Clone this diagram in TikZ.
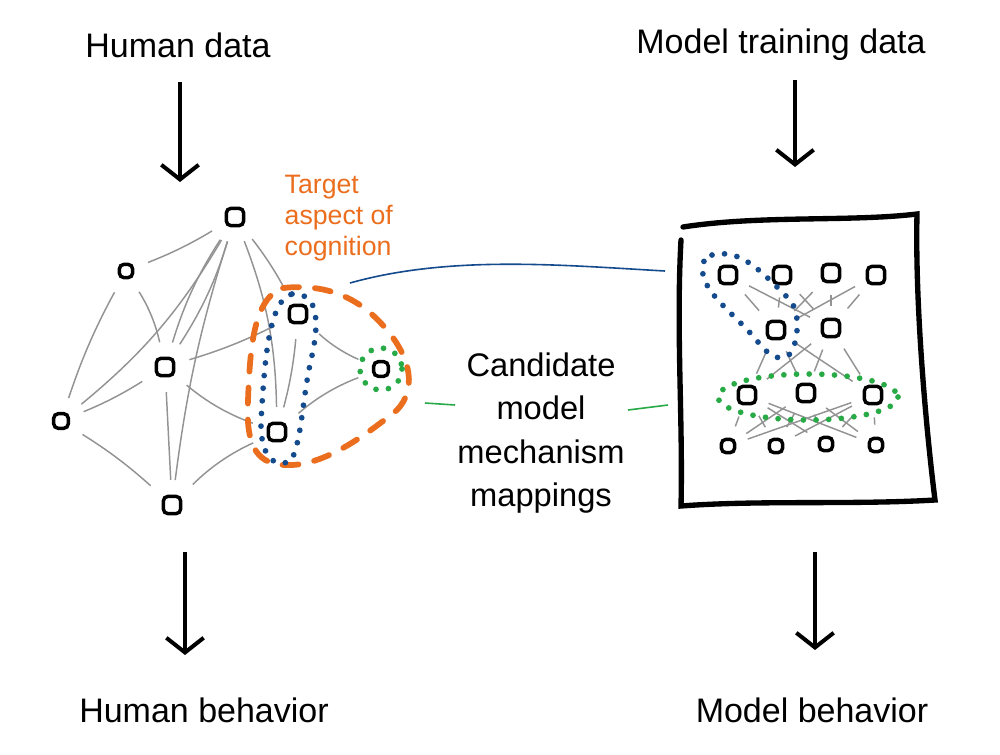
\documentclass[tikz,border=0pt]{standalone}
\usepackage{fontspec}
\setmainfont{Liberation Sans}
\usetikzlibrary{arrows.meta}
\definecolor{org}{RGB}{235,110,30}
\definecolor{blu}{RGB}{20,75,140}
\definecolor{grn}{RGB}{40,170,70}
\begin{document}
\begin{tikzpicture}[x=0.75pt,y=-0.75pt,
  nd/.style={draw=black,line width=2.6pt,rounded corners=3.5pt,minimum size=13pt,inner sep=0pt},
  sn/.style={nd,minimum size=10pt},
  ed/.style={draw=gray!85,line width=1.1pt},
  big/.style={font=\fontsize{25.5}{30}\selectfont},
  arr/.style={line width=3pt,-{Straight Barb[length=11pt,width=28pt,line width=3pt]}},
  dots/.style={line width=4.3pt,line cap=round,dash pattern=on 0pt off 9.5pt},
  odash/.style={line width=4.3pt,line cap=round,dash pattern=on 12pt off 12pt}]
\useasboundingbox (0,0) rectangle (1000,754);
% texts
\node[big] (hd) at (178,45) {Human data};
\node[big] (mt) at (781,45) {Model training data};
\node[big] (hb) at (204,710) {Human behavior};
\node[big] (mb) at (812,710) {Model behavior};
\node[text=org,align=left,anchor=north west,font=\fontsize{20}{23.5}\selectfont] (tg) at (280,170) {Target\\aspect of\\cognition};
\node[align=center,font=\fontsize{24.5}{32.5}\selectfont] (cand) at (541,433) {Candidate\\model\\mechanism\\mappings};
% arrows
\coordinate (a1s) at (180,82); \coordinate (a1e) at (180,182);
\coordinate (a2s) at (185,552); \coordinate (a2e) at (185,655);
\coordinate (a3s) at (795,80); \coordinate (a3e) at (795,167);
\coordinate (a4s) at (815,552); \coordinate (a4e) at (815,650);
\draw[arr] (a1s) -- (a1e);
\draw[arr] (a2s) -- (a2e);
\draw[arr] (a3s) -- (a3e);
\draw[arr] (a4s) -- (a4e);
% left graph nodes
\node[nd] (A) at (235,217) {};
\node[sn] (B) at (126,271) {};
\node[nd] (C) at (165,367) {};
\node[sn,minimum size=11pt] (D) at (61,421) {};
\node[nd] (E) at (172,505) {};
\node[nd] (F) at (298,314) {};
\node[nd] (G) at (277,432) {};
\node[sn,minimum size=11pt] (H) at (381,369) {};
\foreach \u/\v/\b in {A/B/5,A/C/-8,A/C/8,A/D/10,A/E/-5,A/F/5,B/C/10,B/D/-5,C/D/5,C/F/-5,C/G/-10,C/E/0,D/E/5,E/G/10,F/H/-10,G/H/10,F/G/5,A/G/10}
  \draw[ed,shorten <=11pt,shorten >=11pt] (\u) to[bend left=\b] (\v);
% loops
\draw[org,odash] (283,288) .. controls (330,283) and (362,300) .. (387,330)
  .. controls (412,360) and (416,390) .. (397,410)
  .. controls (360,440) and (320,467) .. (285,465)
  .. controls (253,464) and (246,440) .. (248,400)
  .. controls (250,350) and (253,298) .. (283,288);
\draw[blu,dots] (292,294) .. controls (322,292) and (318,330) .. (311,360)
  .. controls (302,400) and (302,440) .. (291,461)
  .. controls (270,470) and (260,450) .. (261,420)
  .. controls (264,380) and (266,300) .. (292,294);
\draw[grn,dots] (381,369) circle (21);
% right box
\draw[line width=4pt,line cap=round] (683,227) .. controls (760,215) and (850,222) .. (917,214)
  .. controls (915,300) and (925,420) .. (935,500)
  .. controls (850,505) and (760,500) .. (681,506)
  .. controls (683,420) and (676,330) .. (681,240);
% right nodes
\node[nd] (r11) at (728,275) {}; \node[nd] (r12) at (782,275) {};
\node[nd] (r13) at (831,273) {}; \node[nd] (r14) at (876,275) {};
\node[nd] (r21) at (776,330) {}; \node[nd] (r22) at (831,328) {};
\node[nd] (r31) at (747,395) {}; \node[nd] (r32) at (806,393) {};
\node[nd] (r33) at (873,395) {};
\node[sn] (r41) at (728,446) {}; \node[sn] (r42) at (776,446) {};
\node[sn] (r43) at (826,444) {}; \node[sn] (r44) at (876,445) {};
\foreach \u in {r11,r12,r13,r14}{\foreach \v in {r21,r22}{\draw[ed,shorten <=9pt,shorten >=9pt] (\u) -- (\v);}}
\foreach \u in {r21,r22}{\foreach \v in {r31,r32,r33}{\draw[ed,shorten <=9pt,shorten >=9pt] (\u) -- (\v);}}
\foreach \u in {r31,r32,r33}{\foreach \v in {r41,r42,r43,r44}{\draw[ed,shorten <=9pt,shorten >=9pt] (\u) -- (\v);}}
\draw[blu,dots] (712,255) .. controls (740,248) and (760,270) .. (790,300)
  .. controls (802,315) and (797,345) .. (790,354)
  .. controls (780,362) and (770,357) .. (758,342)
  .. controls (738,317) and (708,297) .. (703,275)
  .. controls (701,262) and (705,257) .. (712,255);
\draw[grn,dots] (808,397) ellipse (90 and 23);
% mapping lines
\coordinate (b1) at (350,283); \coordinate (b2) at (665,271);
\coordinate (g1) at (425,403); \coordinate (g2) at (668,405);
\coordinate (g3) at (455,405); \coordinate (g4) at (628,410);
\draw[blu,line width=1.2pt] (b1) .. controls (450,255) and (560,265) .. (b2);
\draw[grn,line width=1.2pt] (g1) -- (g3);
\draw[grn,line width=1.2pt] (g4) -- (g2);
\end{tikzpicture}
\end{document}
